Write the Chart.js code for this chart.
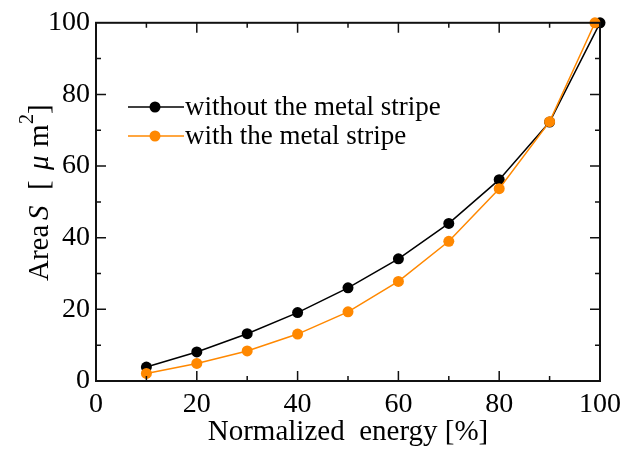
<!DOCTYPE html>
<html>
<head>
<meta charset="utf-8">
<script src="https://cdn.jsdelivr.net/npm/chart.js@4/dist/chart.umd.min.js"></script>
<style>
  html, body { margin: 0; padding: 0; background: #fff; }
  #wrap { width: 640px; height: 450px; }
</style>
</head>
<body>
<div id="wrap"><canvas id="chart" width="640" height="450"></canvas></div>
<script>
// values
const energyA = [10, 20, 30, 40, 50, 60, 70, 80, 90, 100];
const areaWithout = [3.9, 8.1, 13.2, 19.1, 26.0, 34.1, 44.0, 56.2, 72.3, 100];
const energyB = [10, 20, 30, 40, 50, 60, 70, 80, 90, 99];
const areaWith = [2.1, 4.9, 8.4, 13.1, 19.3, 27.8, 39.0, 53.7, 72.4, 100];
const seriesNames = ['without the metal stripe', 'with the metal stripe'];
const seriesColors = ['#000000', '#ff8800'];

const FONT = '"Liberation Serif", "DejaVu Serif", serif';

const pts = (xs, ys) => xs.map((x, i) => ({ x: x, y: ys[i] }));

// inward ticks, frame, legend and y title
const decor = {
  id: 'decor',
  afterDatasetsDraw(chart) {
    const { ctx, chartArea: a, scales: { x, y } } = chart;
    ctx.save();
    ctx.strokeStyle = '#111';
    ctx.lineWidth = 2;
    ctx.strokeRect(a.left, a.top, a.right - a.left, a.bottom - a.top);
    ctx.lineWidth = 1.5;
    for (let v = 10; v < 100; v += 10) {
      const len = v % 20 === 0 ? 10 : 5;
      const px = x.getPixelForValue(v);
      const py = y.getPixelForValue(v);
      ctx.beginPath();
      ctx.moveTo(px, a.bottom); ctx.lineTo(px, a.bottom - len);
      ctx.moveTo(px, a.top); ctx.lineTo(px, a.top + len);
      ctx.moveTo(a.left, py); ctx.lineTo(a.left + len, py);
      ctx.moveTo(a.right, py); ctx.lineTo(a.right - len, py);
      ctx.stroke();
    }

    // legend
    ctx.font = '27px ' + FONT;
    ctx.textBaseline = 'middle';
    ctx.textAlign = 'left';
    seriesNames.forEach((name, i) => {
      const ly = 107 + i * 29;
      ctx.strokeStyle = seriesColors[i];
      ctx.lineWidth = 1.5;
      ctx.beginPath();
      ctx.moveTo(128, ly); ctx.lineTo(184, ly);
      ctx.stroke();
      ctx.fillStyle = seriesColors[i];
      ctx.beginPath();
      ctx.arc(155, ly, 5.5, 0, Math.PI * 2);
      ctx.fill();
      ctx.fillStyle = '#000';
      ctx.fillText(name, 185, ly + 1);
    });

    // y axis title with italic S and mu, loosely spaced like the original
    ctx.translate(48, 281);
    ctx.rotate(-Math.PI / 2);
    ctx.textBaseline = 'alphabetic';
    const parts = [
      ['Area', '29px ' + FONT, 0, 0],
      ['S', 'italic 29px ' + FONT, 61, 0],
      ['[', '29px ' + FONT, 91, 0],
      ['\u03bc', 'italic 29px ' + FONT, 111, 0],
      ['m', '29px ' + FONT, 134, 0],
      ['2', '20px ' + FONT, 157, -15],
      [']', '29px ' + FONT, 167, 0]
    ];
    parts.forEach(([t, f, ox, dy]) => {
      ctx.font = f;
      ctx.fillText(t, ox, dy);
    });
    ctx.restore();
  }
};

new Chart(document.getElementById('chart').getContext('2d'), {
  type: 'scatter',
  data: {
    datasets: [
      {
        label: seriesNames[0],
        data: pts(energyA, areaWithout),
        borderColor: seriesColors[0],
        backgroundColor: seriesColors[0],
        showLine: true,
        borderWidth: 1.5,
        pointRadius: 5.5,
        pointBorderWidth: 0,
        tension: 0,
        clip: false,
        order: 1
      },
      {
        label: seriesNames[1],
        data: pts(energyB, areaWith),
        borderColor: seriesColors[1],
        backgroundColor: seriesColors[1],
        showLine: true,
        borderWidth: 1.5,
        pointRadius: 5.5,
        pointBorderWidth: 0,
        tension: 0,
        clip: false,
        order: 0
      }
    ]
  },
  options: {
    responsive: false,
    animation: false,
    layout: { padding: { left: 0, right: 40, top: 21, bottom: 0 } },
    plugins: { legend: { display: false }, tooltip: { enabled: false } },
    scales: {
      x: {
        type: 'linear', min: 0, max: 100,
        grid: { display: false, drawTicks: false },
        border: { display: false },
        ticks: { stepSize: 20, padding: 7, color: '#000', font: { family: FONT, size: 28 } },
        title: { display: true, text: 'Normalized  energy [%]', color: '#000', padding: { top: 0, bottom: 0 }, font: { family: FONT, size: 29 } },
        afterFit(s) { s.height = 69; }
      },
      y: {
        type: 'linear', min: 0, max: 100,
        grid: { display: false, drawTicks: false },
        border: { display: false },
        ticks: { stepSize: 20, padding: 6, color: '#000', font: { family: FONT, size: 28 } },
        afterFit(s) { s.width = 96; }
      }
    }
  },
  plugins: [decor]
});
</script>
</body>
</html>
